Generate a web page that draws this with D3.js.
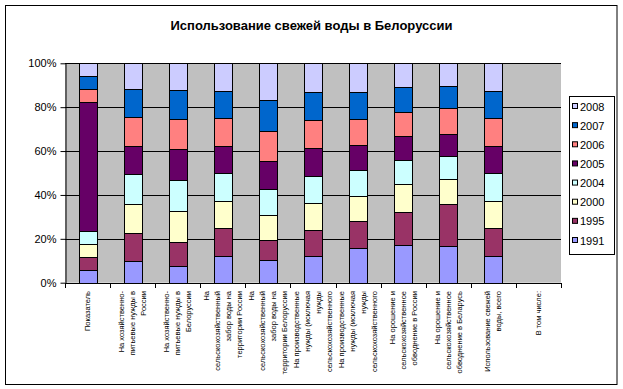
<!DOCTYPE html>
<html>
<head>
<meta charset="utf-8">
<script src="https://cdn.jsdelivr.net/npm/d3@7"></script>
<style>
  html, body { margin: 0; padding: 0; background: #fff; }
  svg { display: block; }
  text { font-family: Arial, "Liberation Sans", sans-serif; }
</style>
</head>
<body>
<svg id="chart" width="623" height="389"></svg>
<script>
// ---- data ----
const categories = [
  "Показатель",
  "На хозяйственно-питьевые нужды в России",
  "На хозяйственно-питьевые нужды в Белоруссии",
  "На сельскохозяйственный забор воды на территории России",
  "На сельскохозяйственный забор воды на территории Белоруссии",
  "На производственные нужды (исключая нужды сельскохозяйственного",
  "На производственные нужды (исключая нужды сельскохозяйственного",
  "На орошение и сельскохозяйственное обводнение в России",
  "На орошение и сельскохозяйственное обводнение в Беларусь",
  "Использование свежей воды, всего",
  "В том числе:"
];
const categoryLines = [
  ["Показатель"],
  ["На хозяйственно-", "питьевые нужды в", "России"],
  ["На хозяйственно-", "питьевые нужды в", "Белоруссии"],
  ["На", "сельскохозяйственный", "забор воды на", "территории России"],
  ["На", "сельскохозяйственный", "забор воды на", "территории Белоруссии"],
  ["На производственные", "нужды (исключая", "нужды", "сельскохозяйственного"],
  ["На производственные", "нужды (исключая", "нужды", "сельскохозяйственного"],
  ["На орошение и", "сельскохозяйственное", "обводнение в России"],
  ["На орошение и", "сельскохозяйственное", "обводнение в Беларусь"],
  ["Использование свежей", "воды, всего"],
  ["В том числе:"]
];
const years = ["1991", "1995", "2000", "2004", "2005", "2006", "2007", "2008"];
const s1991 = [5.7, 9.8, 7.5, 12.0, 10.2, 12.0, 15.7, 17.0, 16.6, 12.0, 0];
const s1995 = [5.9, 12.8, 10.9, 12.8, 9.1, 11.9, 12.3, 15.1, 19.1, 12.8, 0];
const s2000 = [5.9, 13.2, 14.1, 12.3, 11.4, 12.3, 11.4, 12.7, 11.4, 12.3, 0];
const s2004 = [5.9, 13.7, 14.2, 12.8, 11.9, 12.3, 11.8, 11.0, 10.5, 12.8, 0];
const s2005 = [58.8, 13.0, 14.1, 12.3, 12.7, 12.8, 11.4, 10.9, 10.0, 12.3, 0];
const s2006 = [5.9, 13.0, 13.7, 12.7, 13.7, 12.7, 11.9, 11.0, 11.9, 12.7, 0];
const s2007 = [6.0, 12.7, 13.2, 12.3, 14.1, 12.8, 12.3, 11.4, 10.0, 12.3, 0];
const s2008 = [5.9, 11.9, 12.3, 12.8, 16.9, 13.2, 13.2, 10.9, 10.5, 12.8, 0];
const seriesValues = [s1991, s1995, s2000, s2004, s2005, s2006, s2007, s2008];
const colors = ["#9999FF", "#993366", "#FFFFCC", "#CCFFFF", "#660066", "#FF8080", "#0066CC", "#CCCCFF"];
const yTicks = [0, 0.2, 0.4, 0.6, 0.8, 1.0];
const title = "Использование свежей воды в Белоруссии";

// ---- layout ----
const svg = d3.select("#chart");
const plot = { left: 65, right: 561, top: 63.3, bottom: 282.7 };

// outer border
svg.append("rect").attr("x", 5.5).attr("y", 5.5).attr("width", 611.5).attr("height", 379)
  .attr("fill", "#fff").attr("stroke", "#000").attr("stroke-width", 1);

// title
svg.append("text").attr("x", 311.5).attr("y", 29.5).attr("text-anchor", "middle")
  .attr("font-size", "13px").attr("font-weight", "bold").text(title);

const x = d3.scaleBand().domain(d3.range(categories.length)).range([plot.left, plot.right])
  .paddingInner(0.6).paddingOuter(0.3);
const xb = d3.scaleBand().domain(d3.range(categories.length)).range([plot.left, plot.right]);
const y = d3.scaleLinear().domain([0, 1]).range([plot.bottom, plot.top]);

// plot background
svg.append("rect").attr("x", plot.left).attr("y", plot.top)
  .attr("width", plot.right - plot.left).attr("height", plot.bottom - plot.top)
  .attr("fill", "#C0C0C0");

// gridlines
svg.append("g").selectAll("line").data(yTicks).join("line")
  .attr("x1", plot.left).attr("x2", plot.right)
  .attr("y1", d => Math.round(y(d)) + 0.5).attr("y2", d => Math.round(y(d)) + 0.5)
  .attr("stroke", "#000").attr("stroke-width", 1);

// stacked data
const table = categories.map((c, i) => {
  const row = { idx: i };
  years.forEach((yr, k) => row[yr] = seriesValues[k][i]);
  return row;
});
const stacked = d3.stack().keys(years).offset(d3.stackOffsetExpand)(table);

svg.append("g").selectAll("g").data(stacked).join("g")
  .attr("fill", (d, i) => colors[i])
  .selectAll("rect").data(d => d.filter(p => p[1] - p[0] > 0)).join("rect")
  .attr("x", d => Math.round(x(d.data.idx)) + 0.5)
  .attr("width", 18)
  .attr("y", d => Math.round(y(d[1])) + 0.5)
  .attr("height", d => Math.round(y(d[0])) - Math.round(y(d[1])))
  .attr("stroke", "#000").attr("stroke-width", 1);

// y axis
const yAxis = d3.axisLeft(y).tickValues(yTicks).tickFormat(d3.format(".0%"))
  .tickSize(5).tickSizeOuter(0).tickPadding(4);
const gy = svg.append("g").attr("transform", `translate(${plot.left + 0.5},0)`).call(yAxis);
gy.select(".domain").attr("stroke", "#000");
gy.selectAll(".tick line").attr("stroke", "#000");
gy.selectAll(".tick text").attr("font-size", "11px").attr("font-family", "Arial, 'Liberation Sans', sans-serif").attr("fill", "#000");

// x axis
svg.append("line").attr("x1", plot.left).attr("x2", plot.right)
  .attr("y1", Math.round(plot.bottom) + 0.5).attr("y2", Math.round(plot.bottom) + 0.5)
  .attr("stroke", "#000");
const bounds = d3.range(categories.length + 1).map(i => plot.left + i * xb.step());
svg.append("g").selectAll("line").data(bounds).join("line")
  .attr("x1", d => Math.round(d) + 0.5).attr("x2", d => Math.round(d) + 0.5)
  .attr("y1", Math.round(plot.bottom)).attr("y2", Math.round(plot.bottom) + 5)
  .attr("stroke", "#000");

// x labels (rotated, multi-line)
const lineGap = 11;
const lg = svg.append("g");
categoryLines.forEach((lines, i) => {
  const cx = xb(i) + xb.bandwidth() / 2;
  lines.forEach((t, j) => {
    const lx = cx + (j - (lines.length - 1) / 2) * lineGap;
    lg.append("text")
      .attr("transform", `translate(${lx},291) rotate(-90)`)
      .attr("text-anchor", "end").attr("dominant-baseline", "central")
      .attr("font-size", "7.5px").text(t);
  });
});

// legend
const legend = svg.append("g");
legend.append("rect").attr("x", 569.5).attr("y", 96.5).attr("width", 45).attr("height", 158)
  .attr("fill", "#fff").attr("stroke", "#000");
const legendYears = years.slice().reverse();
const ly = d3.scalePoint().domain(legendYears).range([106.5, 240.5]);
legend.selectAll("rect.sw").data(legendYears).join("rect").attr("class", "sw")
  .attr("x", 572.5).attr("y", d => ly(d) - 3).attr("width", 5).attr("height", 5)
  .attr("fill", d => colors[years.indexOf(d)]).attr("stroke", "#000");
legend.selectAll("text").data(legendYears).join("text")
  .attr("x", 580).attr("y", d => ly(d)).attr("dominant-baseline", "central")
  .attr("font-size", "11px").text(d => d);
</script>
</body>
</html>
